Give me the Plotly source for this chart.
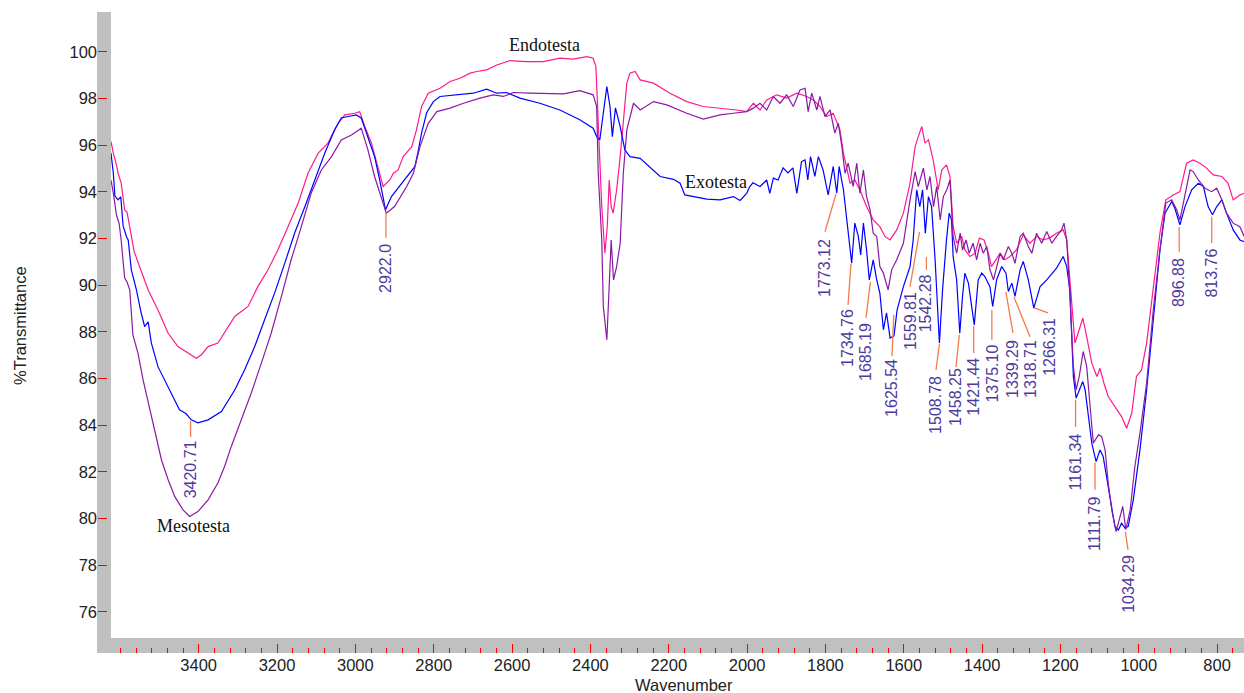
import plotly.graph_objects as go

# ---------------- data ----------------
endo_wn = [3624, 3618, 3609, 3606, 3598, 3589, 3583, 3572, 3565, 3551, 3529, 3504, 3478, 3453, 3427, 3406,
           3393, 3376, 3351, 3325, 3308, 3274, 3249, 3223, 3198, 3172, 3146, 3121, 3095, 3070, 3044, 3027,
           3002, 2989, 2976, 2959, 2942, 2929, 2912, 2903, 2891, 2878, 2856, 2844, 2831, 2814, 2784, 2758,
           2733, 2707, 2690, 2665, 2639, 2605, 2563, 2520, 2478, 2444, 2409, 2393, 2386, 2380, 2371, 2363,
           2357, 2352, 2347, 2342, 2333, 2324, 2316, 2307, 2299, 2286, 2273, 2239, 2197, 2154, 2112, 2069,
           2027, 2001, 1984, 1967, 1950, 1924, 1899, 1873, 1848, 1831, 1814, 1797, 1780, 1763, 1754, 1737,
           1725, 1712, 1695, 1678, 1661, 1648, 1635, 1618, 1601, 1584, 1571, 1563, 1554, 1546, 1537, 1525,
           1512, 1503, 1491, 1482, 1474, 1465, 1452, 1444, 1431, 1418, 1407, 1395, 1384, 1376, 1365, 1354,
           1342, 1329, 1312, 1295, 1278, 1261, 1244, 1227, 1210, 1193, 1184, 1176, 1169, 1163, 1155, 1143,
           1133, 1120, 1107, 1099, 1089, 1078, 1061, 1044, 1031, 1018, 1006, 993, 980, 963, 946, 931,
           912, 895, 878, 861, 844, 827, 810, 788, 772, 759, 742, 731]
endo_t = [96.16, 95.66, 95.08, 94.80, 94.39, 93.23, 93.14, 92.09, 91.46, 90.80, 89.80, 88.94, 87.94, 87.37, 87.09, 86.87,
          87.02, 87.37, 87.52, 88.23, 88.66, 89.09, 89.94, 90.66, 91.51, 92.51, 93.52, 94.80, 95.66, 96.09, 96.94, 97.30,
          97.37, 97.44, 96.80, 96.09, 95.09, 94.23, 94.51, 94.80, 94.94, 95.51, 95.94, 96.66, 97.66, 98.23, 98.44, 98.73,
          98.87, 99.09, 99.16, 99.23, 99.44, 99.63, 99.58, 99.58, 99.73, 99.69, 99.80, 99.73, 99.37, 96.94, 93.37, 91.37,
          92.51, 94.51, 93.37, 93.09, 94.09, 95.51, 96.94, 98.66, 99.09, 99.16, 98.80, 98.66, 98.23, 97.87, 97.66, 97.59,
          97.51, 97.44, 97.80, 97.51, 97.94, 98.16, 98.02, 98.23, 98.09, 97.94, 97.66, 97.23, 97.37, 96.66, 95.66, 94.37,
          94.51, 94.09, 93.37, 92.80, 92.51, 92.09, 91.94, 92.37, 93.09, 94.37, 95.94, 96.37, 96.80, 96.09, 96.23, 95.37,
          94.09, 94.94, 95.16, 94.66, 92.52, 91.80, 92.09, 91.52, 91.23, 91.37, 92.02, 91.94, 91.37, 90.80, 91.09, 91.37,
          91.09, 91.23, 91.52, 92.16, 91.80, 92.09, 91.94, 92.03, 92.23, 92.37, 91.94, 90.37, 88.94, 87.52, 87.94, 88.59,
          87.80, 86.66, 86.09, 86.44, 85.80, 85.23, 84.80, 84.37, 83.87, 84.52, 86.09, 86.37, 87.52, 89.80, 92.23, 93.66,
          93.87, 94.01, 95.23, 95.37, 95.23, 95.02, 94.73, 94.66, 94.37, 93.66, 93.87, 93.94]

exo_wn = [3624, 3618, 3614, 3606, 3599, 3593, 3584, 3580, 3572, 3559, 3547, 3538, 3529, 3521, 3504, 3487,
          3470, 3449, 3432, 3419, 3402, 3376, 3342, 3308, 3283, 3257, 3232, 3206, 3180, 3155, 3129, 3104,
          3078, 3053, 3036, 3019, 2998, 2985, 2968, 2951, 2938, 2923, 2908, 2891, 2873, 2861, 2848, 2839,
          2831, 2818, 2801, 2784, 2733, 2699, 2665, 2639, 2614, 2580, 2529, 2478, 2427, 2393, 2384, 2376,
          2367, 2358, 2350, 2344, 2336, 2324, 2312, 2299, 2273, 2239, 2222, 2188, 2171, 2159, 2137, 2103,
          2069, 2035, 2018, 2001, 1993, 1985, 1967, 1950, 1942, 1933, 1921, 1908, 1896, 1883, 1873, 1861,
          1852, 1845, 1838, 1827, 1818, 1806, 1793, 1780, 1771, 1765, 1754, 1746, 1733, 1725, 1716, 1710,
          1703, 1695, 1688, 1678, 1669, 1661, 1652, 1644, 1635, 1625, 1617, 1601, 1584, 1576, 1567, 1559,
          1552, 1545, 1537, 1529, 1520, 1509, 1501, 1491, 1484, 1478, 1474, 1465, 1457, 1450, 1444, 1435,
          1427, 1420, 1410, 1401, 1393, 1380, 1373, 1363, 1350, 1339, 1333, 1324, 1316, 1303, 1295, 1282,
          1268, 1252, 1235, 1210, 1193, 1184, 1176, 1171, 1167, 1160, 1152, 1143, 1137, 1129, 1120, 1109,
          1099, 1091, 1082, 1074, 1061, 1052, 1044, 1035, 1027, 1014, 997, 980, 963, 946, 933, 916,
          908, 895, 882, 865, 848, 835, 823, 812, 801, 788, 776, 759, 742, 731]
exo_t = [95.67, 94.81, 93.83, 93.66, 93.79, 92.54, 92.07, 91.94, 90.66, 89.80, 88.82, 88.23, 88.43, 87.53, 86.51, 85.94,
         85.38, 84.66, 84.49, 84.23, 84.10, 84.23, 84.59, 85.51, 86.37, 87.37, 88.51, 89.67, 90.96, 92.24, 93.36, 94.51,
         95.67, 96.66, 97.17, 97.23, 97.30, 97.17, 96.37, 95.51, 94.51, 93.23, 93.80, 94.17, 94.51, 94.81, 95.09, 95.80,
         96.53, 97.39, 97.87, 98.09, 98.16, 98.23, 98.40, 98.23, 98.26, 98.02, 97.80, 97.51, 97.09, 96.73, 96.37, 96.23,
         97.39, 98.51, 97.66, 96.37, 97.60, 96.80, 95.80, 95.51, 95.44, 94.94, 94.66, 94.54, 94.37, 93.87, 93.80, 93.69,
         93.66, 93.80, 93.63, 93.94, 94.23, 94.39, 94.23, 94.51, 93.94, 94.59, 94.51, 95.03, 94.81, 95.03, 93.94, 95.30,
         95.37, 94.51, 95.51, 94.66, 95.51, 94.94, 93.87, 95.09, 93.94, 95.09, 94.09, 92.80, 90.94, 92.66, 92.09, 91.30,
         92.66, 91.51, 90.23, 91.09, 90.23, 89.66, 88.09, 88.82, 87.74, 87.83, 88.94, 89.94, 90.80, 91.94, 94.09, 93.37,
         94.09, 92.23, 93.80, 93.37, 91.09, 87.52, 89.80, 91.94, 93.09, 92.80, 91.23, 90.23, 87.94, 89.52, 90.52, 90.09,
         89.23, 88.30, 90.23, 90.52, 90.37, 89.94, 89.09, 90.23, 90.80, 90.52, 89.73, 90.09, 89.52, 90.66, 91.02, 90.23,
         89.02, 89.94, 90.23, 90.73, 91.23, 90.80, 89.80, 87.80, 86.09, 85.16, 85.51, 85.87, 85.51, 84.37, 83.23, 82.44,
         82.94, 82.66, 81.80, 80.94, 79.66, 79.51, 79.80, 79.59, 79.66, 80.80, 82.94, 85.51, 88.66, 91.51, 93.09, 93.59,
         93.30, 92.59, 93.37, 94.09, 94.37, 94.23, 93.37, 93.02, 93.37, 93.66, 93.09, 92.37, 91.94, 91.87]

meso_wn = [3624, 3621, 3618, 3610, 3603, 3598, 3589, 3583, 3576, 3568, 3560, 3555, 3542, 3525, 3512, 3495,
           3478, 3461, 3440, 3423, 3402, 3376, 3351, 3334, 3317, 3291, 3266, 3240, 3215, 3189, 3164, 3138,
           3113, 3087, 3061, 3036, 3010, 2985, 2968, 2951, 2934, 2921, 2900, 2869, 2852, 2835, 2814, 2792,
           2758, 2724, 2682, 2648, 2622, 2597, 2554, 2512, 2469, 2427, 2393, 2384, 2380, 2371, 2367, 2358,
           2351, 2347, 2341, 2333, 2324, 2316, 2307, 2290, 2273, 2239, 2205, 2154, 2112, 2069, 2035, 2001,
           1984, 1967, 1950, 1933, 1916, 1899, 1882, 1865, 1852, 1844, 1835, 1822, 1814, 1801, 1788, 1776,
           1767, 1758, 1750, 1742, 1729, 1720, 1712, 1703, 1695, 1686, 1678, 1669, 1661, 1652, 1640, 1631,
           1618, 1601, 1584, 1571, 1563, 1550, 1541, 1533, 1524, 1516, 1507, 1499, 1490, 1482, 1474, 1465,
           1456, 1450, 1441, 1433, 1423, 1414, 1405, 1397, 1388, 1380, 1371, 1363, 1354, 1346, 1333, 1324,
           1316, 1303, 1295, 1282, 1273, 1261, 1248, 1235, 1222, 1210, 1197, 1191, 1184, 1176, 1167, 1160,
           1152, 1142, 1133, 1125, 1116, 1103, 1095, 1086, 1078, 1069, 1058, 1050, 1041, 1033, 1022, 1010,
           997, 980, 963, 946, 931, 916, 903, 895, 882, 869, 861, 848, 831, 814, 801, 788,
           776, 759, 742, 731]
meso_t = [94.51, 94.23, 93.96, 93.02, 92.63, 91.94, 90.31, 90.14, 89.80, 87.87, 87.44, 87.09, 85.94, 84.66, 83.66, 82.51,
          81.66, 80.94, 80.37, 80.09, 80.30, 80.80, 81.52, 82.23, 83.08, 84.23, 85.37, 86.66, 87.94, 89.51, 91.09, 92.51,
          93.94, 94.94, 95.51, 96.23, 96.44, 96.73, 95.80, 94.66, 93.80, 93.09, 93.37, 94.23, 94.80, 95.94, 96.94, 97.44,
          97.59, 97.80, 98.02, 98.16, 98.09, 98.26, 98.23, 98.23, 98.20, 98.34, 98.16, 97.66, 94.80, 91.94, 89.08, 87.66,
          90.52, 91.94, 90.23, 90.80, 91.80, 94.80, 96.66, 97.80, 97.51, 97.87, 97.73, 97.37, 97.12, 97.30, 97.37, 97.44,
          97.59, 97.80, 97.51, 98.09, 97.80, 98.16, 97.66, 98.37, 98.44, 97.44, 98.23, 97.51, 98.09, 97.23, 97.51, 96.52,
          96.94, 95.94, 94.80, 95.23, 94.23, 95.23, 93.94, 94.94, 93.80, 93.23, 92.23, 92.09, 90.80, 90.52, 89.80, 90.66,
          91.09, 91.80, 93.66, 94.87, 94.23, 95.02, 94.09, 94.66, 93.37, 94.23, 92.80, 93.80, 94.09, 94.51, 92.09, 91.37,
          92.23, 91.51, 91.94, 91.37, 91.80, 91.09, 91.80, 91.37, 91.66, 90.66, 90.23, 90.80, 91.37, 91.09, 91.66, 91.37,
          90.94, 92.09, 92.23, 91.66, 91.37, 92.23, 91.80, 92.30, 91.80, 92.09, 92.37, 92.66, 91.94, 89.59, 86.52, 85.51,
          86.09, 87.16, 86.52, 84.94, 83.23, 83.59, 83.52, 82.94, 81.52, 80.37, 79.44, 79.94, 80.52, 79.52, 80.37, 82.23,
          83.66, 85.80, 88.94, 91.51, 93.52, 93.66, 93.23, 92.80, 93.80, 94.94, 94.87, 94.51, 94.16, 94.01, 94.16, 93.66,
          93.09, 92.66, 92.51, 92.09]

series_names = ["Endotesta", "Exotesta", "Mesotesta"]

peak_labels = ["3420.71", "2922.0", "1773.12", "1734.76", "1685.19", "1625.54", "1559.81", "1542.28",
               "1508.78", "1458.25", "1421.44", "1375.10", "1339.29", "1318.71", "1266.31", "1161.34",
               "1111.79", "1034.29", "896.88", "813.76"]

y_ticks = [76, 78, 80, 82, 84, 86, 88, 90, 92, 94, 96, 98, 100]
x_ticks = [3400, 3200, 3000, 2800, 2600, 2400, 2200, 2000, 1800, 1600, 1400, 1200, 1000, 800]

# ---------------- layout helpers (placement only) ----------------
# (line top %T, line bottom wavenumber, line bottom %T, text centre wavenumber, text centre %T)
peak_place = [
    (84.19, 3420.71, 83.50, 3420.71, 82.09),
    (93.14, 2922.0, 92.03, 2922.0, 90.74),
    (93.91, 1801.1, 92.29, 1801.1, 90.74),
    (90.91, 1742.3, 89.16, 1742.3, 87.74),
    (90.14, 1696.4, 88.60, 1696.4, 87.14),
    (88.73, 1630.0, 86.97, 1630.0, 85.60),
    (92.29, 1584.1, 89.93, 1581.5, 88.47),
    (91.21, 1542.28, 90.66, 1542.28, 89.24),
    (87.49, 1517.7, 86.37, 1517.7, 84.87),
    (87.87, 1466.6, 86.50, 1466.6, 85.21),
    (88.26, 1421.44, 87.10, 1421.44, 85.64),
    (88.94, 1375.10, 87.66, 1373.0, 86.20),
    (89.71, 1321.2, 87.96, 1321.2, 86.41),
    (89.50, 1277.7, 87.79, 1275.2, 86.41),
    (89.03, 1231.8, 88.81, 1226.6, 87.36),
    (85.09, 1161.34, 83.93, 1161.34, 82.43),
    (82.39, 1111.79, 81.23, 1111.79, 79.77),
    (79.43, 1027.5, 78.66, 1025.0, 77.20),
    (92.50, 896.88, 91.43, 896.88, 90.10),
    (92.93, 813.76, 91.81, 813.76, 90.53),
]
name_place = [(2518, 100.30), (2079, 94.43), (3414, 79.69)]

SANS = "Liberation Sans, Arial, sans-serif"
SERIF = "Liberation Serif, Times New Roman, serif"
GRAY = "#c0c0c0"
RED = "#ff0000"

fig = go.Figure()
colors = {"Endotesta": "#ff1a8c", "Exotesta": "#0000ff", "Mesotesta": "#8a1aa6"}
for name, wn, t in [("Endotesta", endo_wn, endo_t), ("Exotesta", exo_wn, exo_t), ("Mesotesta", meso_wn, meso_t)]:
    fig.add_trace(go.Scatter(x=wn, y=t, mode="lines", name=name,
                             line=dict(color=colors[name], width=1.2), showlegend=False,
                             xaxis="x", yaxis="y"))

W, H = 1244, 693
ml, mr, mt, mb = 97, 0, 12, 40
pw = W - ml - mr
ph = H - mt - mb
band = 14.0

shapes = [
    dict(type="rect", xref="paper", yref="paper", x0=0, x1=band / pw, y0=0, y1=1,
         fillcolor=GRAY, line=dict(width=0), layer="below"),
    dict(type="rect", xref="paper", yref="paper", x0=0, x1=1, y0=0, y1=15.0 / ph,
         fillcolor=GRAY, line=dict(width=0), layer="below"),
]
annotations = []
for lab, (ytop, xb, yb, xt, yt) in zip(peak_labels, peak_place):
    xv = float(lab)
    shapes.append(dict(type="line", xref="x", yref="y", x0=xv, y0=ytop, x1=xb, y1=yb,
                       line=dict(color="#f47a50", width=1.3)))
    annotations.append(dict(x=xt, y=yt, xref="x", yref="y", text=lab, textangle=-90,
                            showarrow=False, xanchor="center", yanchor="middle",
                            font=dict(family=SANS, size=16, color="#4f3a9c")))
for name, (xn, yn) in zip(series_names, name_place):
    annotations.append(dict(x=xn, y=yn, xref="x", yref="y", text=name, showarrow=False,
                            xanchor="center", yanchor="middle",
                            font=dict(family=SERIF, size=18, color="#111111")))
annotations.append(dict(x=(20 - ml) / pw, y=(H - mb - 326) / ph, xref="paper", yref="paper",
                        text="%Transmittance", textangle=-90, showarrow=False,
                        xanchor="center", yanchor="middle",
                        font=dict(family=SANS, size=16.5, color="#222222")))
annotations.append(dict(x=(684 - ml) / pw, y=(H - mb - 685) / ph, xref="paper", yref="paper",
                        text="Wavenumber", showarrow=False, xanchor="center", yanchor="middle",
                        font=dict(family=SANS, size=16.5, color="#222222")))

minor_vals = [v for v in range(3600, 731, -40) if v not in x_ticks]

fig.update_layout(
    width=W, height=H,
    margin=dict(l=ml, r=mr, t=mt, b=mb, pad=0),
    paper_bgcolor="white", plot_bgcolor="white",
    showlegend=False,
    xaxis=dict(domain=[band / pw, 1], range=[3623.9, 731.4], anchor="free", position=0,
               tickmode="array", tickvals=x_ticks, ticks="inside", ticklen=9, tickwidth=1.3,
               tickcolor=RED, showgrid=False, zeroline=False, showline=False,
               tickfont=dict(family=SANS, size=16.5, color="#222222"),
               minor=dict(tickmode="array", tickvals=minor_vals, ticks="inside", ticklen=5,
                          tickwidth=1.3, tickcolor=RED, showgrid=False)),
    yaxis=dict(domain=[15.0 / ph, 1], range=[74.88, 101.71], anchor="free", position=0,
               tickmode="array", tickvals=y_ticks, ticks="inside", ticklen=9, tickwidth=1.3,
               tickcolor=RED, showgrid=False, zeroline=False, showline=False,
               tickfont=dict(family=SANS, size=16.5, color="#222222")),
    shapes=shapes,
    annotations=annotations,
)

fig.write_html("out.html", config={"displayModeBar": False},
               post_script="document.body.style.margin='0';document.body.style.padding='0';"
                           "document.body.style.overflow='hidden';")
